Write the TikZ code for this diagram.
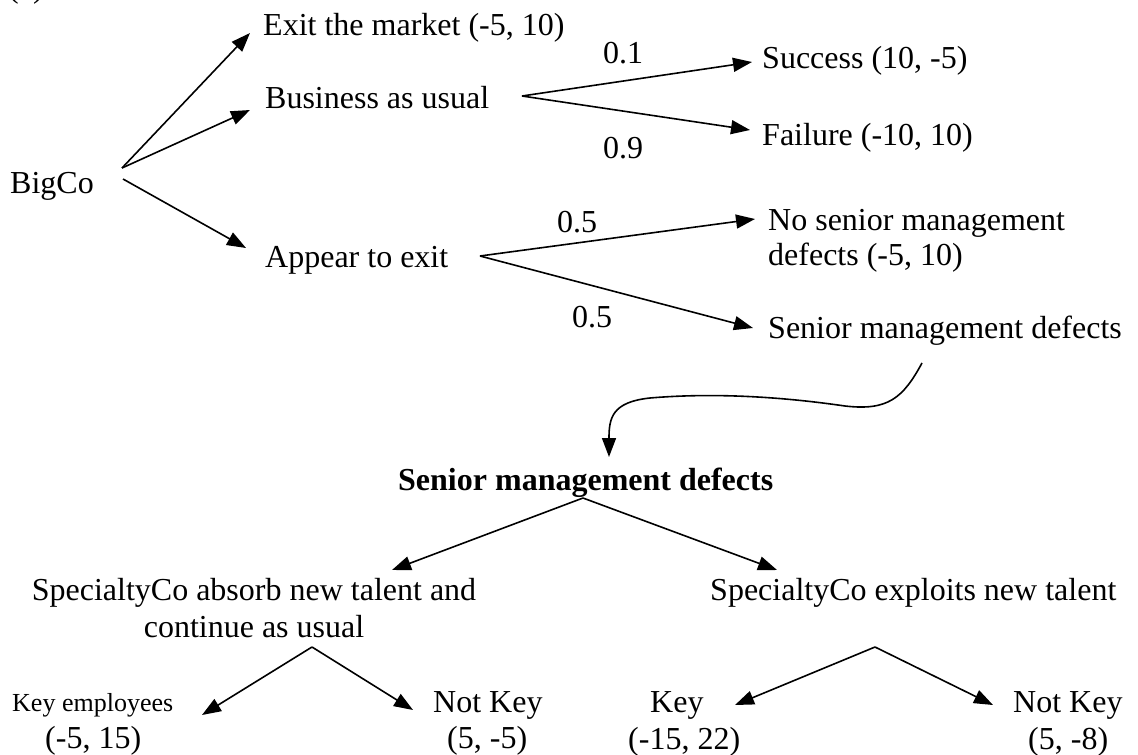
\documentclass[tikz,border=0pt]{standalone}
\usepackage{fontspec}
\setmainfont{Liberation Serif}
\usetikzlibrary{arrows.meta}
\begin{document}
\begin{tikzpicture}[x=1pt,y=-1pt,
  lbl/.style={inner sep=0pt, anchor=base west, font=\fontsize{32}{36}\selectfont},
  clbl/.style={inner sep=0pt, anchor=base, font=\fontsize{32}{36}\selectfont},
  smalllbl/.style={inner sep=0pt, anchor=base west, font=\fontsize{26}{30}\selectfont},
  boldlbl/.style={inner sep=0pt, anchor=base west, font=\fontsize{32}{36}\selectfont\bfseries},
  arr/.style={line width=1.6pt, -{Triangle[length=19pt,width=14pt]}}]
\useasboundingbox (0,0) rectangle (1138,755);
\begin{scope}
\clip (0,0) rectangle (1138,755);
\node[lbl] (tag) at (8,-3) {(a)};
\end{scope}
% upper tree
\node[lbl] (bigco) at (10,193) {BigCo};
\node[lbl] (exit) at (263,35) {Exit the market (-5, 10)};
\node[lbl] (bau) at (265,108) {Business as usual};
\node[lbl] (appear) at (265,267) {Appear to exit};
\node[lbl] (p1) at (603,63) {0.1};
\node[lbl] (p9) at (603,158) {0.9};
\node[lbl] (succ) at (762,68) {Success (10, -5)};
\node[lbl] (fail) at (762,145) {Failure (-10, 10)};
\node[lbl] (p5a) at (557,232) {0.5};
\node[lbl] (p5b) at (572,327) {0.5};
\node[lbl] (nosm) at (768,230) {No senior management};
\node[lbl] (nosm2) at (768,265) {defects (-5, 10)};
\node[lbl] (smd) at (768,338) {Senior management defects};
% lower tree
\node[boldlbl] (smdb) at (398,490) {Senior management defects};
\node[clbl] (absorb) at (254,600) {SpecialtyCo absorb new talent and};
\node[clbl] (absorb2) at (254,637) {continue as usual};
\node[lbl] (exploit) at (710,600) {SpecialtyCo exploits new talent};
\node[smalllbl] (keyemp) at (12,711) {Key employees};
\node[lbl] (keyempv) at (45,748) {(-5, 15)};
\node[lbl] (nka) at (433,712) {Not Key};
\node[lbl] (nkav) at (447,748) {(5, -5)};
\node[lbl] (keyb) at (650,712) {Key};
\node[lbl] (keybv) at (628,749) {(-15, 22)};
\node[lbl] (nkb) at (1013,712) {Not Key};
\node[lbl] (nkbv) at (1028,749) {(5, -8)};
% connector ends
\coordinate (bigcoA) at (122,168);
\coordinate (bigcoB) at (123,179);
\coordinate (exitT) at (250,33);
\coordinate (bauT) at (250,110);
\coordinate (appearT) at (246,248);
\coordinate (bauO) at (522,96);
\coordinate (succT) at (752,62);
\coordinate (failT) at (750,130);
\coordinate (appearO) at (480,256);
\coordinate (nosmT) at (755,219);
\coordinate (smdT) at (753,328);
\coordinate (smdS) at (922,363);
\coordinate (smdbT) at (609,457);
\coordinate (smdbO) at (583,498);
\coordinate (absorbT) at (392,570);
\coordinate (exploitT) at (777,570);
\coordinate (absorbO) at (312,647);
\coordinate (keyempT) at (202,715);
\coordinate (nkaT) at (413,710);
\coordinate (exploitO) at (875,647);
\coordinate (keybT) at (735,705);
\coordinate (nkbT) at (993,705);
% connectors
\draw[arr] (bigcoA) -- (exitT);
\draw[arr] (bigcoA) -- (bauT);
\draw[arr] (bigcoB) -- (appearT);
\draw[arr] (bauO) -- (succT);
\draw[arr] (bauO) -- (failT);
\draw[arr] (appearO) -- (nosmT);
\draw[arr] (appearO) -- (smdT);
\draw[arr] (smdS) .. controls (903,398) and (888,411) .. (845,406)
  .. controls (790,398) and (720,392) .. (650,398)
  .. controls (612,402) and (609,418) .. (smdbT);
\draw[arr] (smdbO) -- (absorbT);
\draw[arr] (smdbO) -- (exploitT);
\draw[arr] (absorbO) -- (keyempT);
\draw[arr] (absorbO) -- (nkaT);
\draw[arr] (exploitO) -- (keybT);
\draw[arr] (exploitO) -- (nkbT);
\end{tikzpicture}
\end{document}
